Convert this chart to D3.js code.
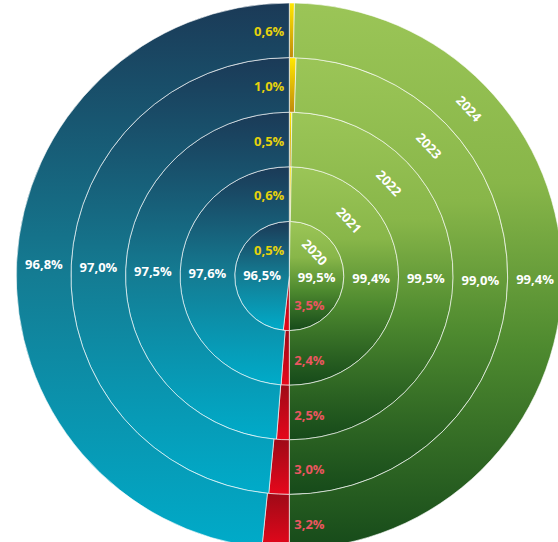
<!DOCTYPE html>
<html>
<head>
<meta charset="utf-8">
<script src="https://cdn.jsdelivr.net/npm/d3@7"></script>
<style>
  html, body { margin: 0; padding: 0; background: #ffffff; }
  svg { display: block; }
  text { font-family: "Open Sans", "Noto Sans", sans-serif; font-weight: 700; }
</style>
</head>
<body>
<svg id="chart" width="558" height="542"></svg>
<script>
// ---- data ----
const years = ["2020", "2021", "2022", "2023", "2024"];
const greenValues = [99.5, 99.4, 99.5, 99.0, 99.4];
const yellowValues = [0.5, 0.6, 0.5, 1.0, 0.6];
const blueValues = [96.5, 97.6, 97.5, 97.0, 96.8];
const redValues = [3.5, 2.4, 2.5, 3.0, 3.2];

const fmt = v => d3.format(".1f")(v).replace(".", ",") + "%";

// ---- layout ----
const W = 558, H = 542;
const cx = 289.3, cy = 276;
const R = 273;

const svg = d3.select("#chart");
const defs = svg.append("defs");

const rScale = d3.scaleLinear().domain([0, years.length]).range([0, R]);

const palettes = {
  green: [[0, "#9bc557"], [0.33, "#88b649"], [0.63, "#4e8a2f"], [1, "#164a1a"]],
  yellow: [[0, "#ffe800"], [1, "#c08a0c"]],
  blue: [[0, "#1b3a57"], [0.5, "#147c93"], [1, "#00abc9"]],
  red: [[0, "#9e0a17"], [1, "#e6071b"]]
};
Object.entries(palettes).forEach(([k, stops]) => {
  const g = defs.append("linearGradient")
    .attr("id", "grad-" + k)
    .attr("x1", 0).attr("y1", 0).attr("x2", 0).attr("y2", 1);
  stops.forEach(([o, c]) => g.append("stop").attr("offset", o).attr("stop-color", c));
});

const g = svg.append("g").attr("transform", `translate(${cx},${cy})`);

const pieRight = d3.pie().sort(null).value(d => d.v).startAngle(0).endAngle(Math.PI);
const pieLeft = d3.pie().sort(null).value(d => d.v).startAngle(Math.PI).endAngle(2 * Math.PI);

years.forEach((yr, i) => {
  const r0 = rScale(i), r1 = rScale(i + 1);
  const arc = d3.arc().innerRadius(r0).outerRadius(r1);
  const right = pieRight([{ v: yellowValues[i], c: "yellow" }, { v: greenValues[i], c: "green" }]);
  const left = pieLeft([{ v: redValues[i], c: "red" }, { v: blueValues[i], c: "blue" }]);
  const ring = g.append("g").attr("class", "ring-" + yr);
  ring.selectAll("path")
    .data(right.concat(left))
    .join("path")
    .attr("d", arc)
    .attr("fill", d => `url(#grad-${d.data.c})`)
    .attr("stroke", "rgba(255,255,255,0.75)")
    .attr("stroke-width", 0.8);
});

// ---- labels ----
const labels = g.append("g");
years.forEach((yr, i) => {
  const r0 = rScale(i), r1 = rScale(i + 1);
  const rm = (r0 + r1) / 2;
  const right = pieRight([{ v: yellowValues[i] }, { v: greenValues[i] }]);
  const left = pieLeft([{ v: redValues[i] }, { v: blueValues[i] }]);
  const lab = d3.arc().innerRadius(rm).outerRadius(rm);

  // green value (centroid)
  const cg = lab.centroid(right[1]);
  labels.append("text").attr("x", cg[0]).attr("y", cg[1] + 1)
    .attr("text-anchor", "middle").attr("dominant-baseline", "central")
    .attr("font-size", 13).attr("fill", "#ffffff").text(fmt(greenValues[i]));

  // blue value (centroid)
  const cb = lab.centroid(left[1]);
  labels.append("text").attr("x", cb[0]).attr("y", cb[1])
    .attr("text-anchor", "middle").attr("dominant-baseline", "central")
    .attr("font-size", 13).attr("fill", "#ffffff").text(fmt(blueValues[i]));

  // yellow value (left of the top slice)
  labels.append("text").attr("x", -5).attr("y", -rm + 1)
    .attr("text-anchor", "end").attr("dominant-baseline", "central")
    .attr("font-size", 13).attr("fill", "#e6d20c").text(fmt(yellowValues[i]));

  // red value (right of the bottom slice)
  labels.append("text").attr("x", 5).attr("y", rm + 2)
    .attr("text-anchor", "start").attr("dominant-baseline", "central")
    .attr("font-size", 13).attr("fill", "#ea5660").text(fmt(redValues[i]));

  // year label along the ring
  const ang = 47;
  const ry = i === 0 ? 35 : rm;
  const a = ang * Math.PI / 180;
  const yx = ry * Math.sin(a), yy = -ry * Math.cos(a);
  labels.append("text")
    .attr("transform", `translate(${yx},${yy}) rotate(${ang})`)
    .attr("text-anchor", "middle").attr("dominant-baseline", "central")
    .attr("font-size", 13).attr("fill", "#ffffff").text(yr);
});
</script>
</body>
</html>
